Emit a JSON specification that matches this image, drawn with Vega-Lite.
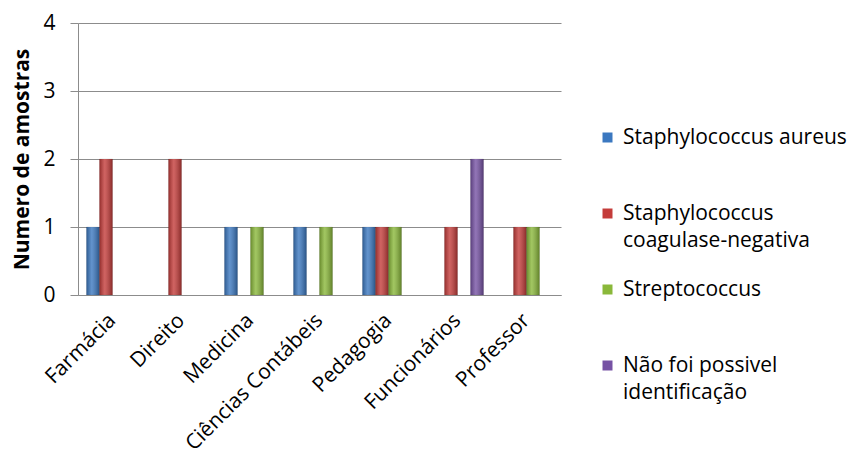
{
  "$schema": "https://vega.github.io/schema/vega-lite/v6.json",
  "width": 483,
  "height": 272,
  "autosize": {"type": "none"},
  "padding": {"left": 78, "top": 23, "right": 292, "bottom": 162},
  "background": "white",
  "config": {"font": "Open Sans", "view": {"stroke": null}},
  "data": {
    "values": [
      {"curso": "Farmácia", "serie": "Staphylococcus aureus", "n": 1},
      {"curso": "Farmácia", "serie": "Staphylococcus coagulase-negativa", "n": 2},
      {"curso": "Direito", "serie": "Staphylococcus coagulase-negativa", "n": 2},
      {"curso": "Medicina", "serie": "Staphylococcus aureus", "n": 1},
      {"curso": "Medicina", "serie": "Streptococcus", "n": 1},
      {"curso": "Ciências Contábeis", "serie": "Staphylococcus aureus", "n": 1},
      {"curso": "Ciências Contábeis", "serie": "Streptococcus", "n": 1},
      {"curso": "Pedagogia", "serie": "Staphylococcus aureus", "n": 1},
      {"curso": "Pedagogia", "serie": "Staphylococcus coagulase-negativa", "n": 1},
      {"curso": "Pedagogia", "serie": "Streptococcus", "n": 1},
      {"curso": "Funcionários", "serie": "Staphylococcus coagulase-negativa", "n": 1},
      {"curso": "Funcionários", "serie": "Não foi possivel identificação", "n": 2},
      {"curso": "Professor", "serie": "Staphylococcus coagulase-negativa", "n": 1},
      {"curso": "Professor", "serie": "Streptococcus", "n": 1}
    ]
  },
  "encoding": {
    "x": {
      "field": "curso",
      "type": "nominal",
      "sort": ["Farmácia", "Direito", "Medicina", "Ciências Contábeis", "Pedagogia", "Funcionários", "Professor"],
      "scale": {"paddingInner": 0.246, "paddingOuter": 0.123},
      "axis": {
        "title": null,
        "labelAngle": -45,
        "labelAlign": "right",
        "labelBaseline": "middle",
        "labelFontSize": 21,
        "labelColor": "#000000",
        "labelPadding": 22,
        "labelLimit": 300,
        "ticks": false,
        "domainColor": "#8c8c8c",
        "grid": false
      }
    },
    "xOffset": {
      "field": "serie",
      "type": "nominal",
      "scale": {
        "domain": ["Staphylococcus aureus", "Staphylococcus coagulase-negativa", "Streptococcus", "Não foi possivel identificação"],
        "paddingInner": 0,
        "paddingOuter": 0
      }
    },
    "y": {
      "field": "n",
      "type": "quantitative",
      "scale": {"domain": [0, 4]},
      "axis": {
        "values": [0, 1, 2, 3, 4],
        "grid": true,
        "gridColor": "#8c8c8c",
        "domainColor": "#8c8c8c",
        "tickColor": "#8c8c8c",
        "tickSize": 8,
        "labelPadding": 15,
        "labelFontSize": 21,
        "labelColor": "#000000",
        "title": "Numero de amostras",
        "titleFontSize": 21,
        "titleFontWeight": "bold",
        "titleColor": "#000000",
        "titlePadding": 10
      }
    }
  },
  "layer": [
    {
      "mark": {"type": "bar", "stroke": "#00000030", "strokeWidth": 0.5},
      "encoding": {
        "color": {
          "field": "serie",
          "type": "nominal",
          "scale": {
            "domain": ["Staphylococcus aureus", "Staphylococcus coagulase-negativa", "Streptococcus", "Não foi possivel identificação"],
            "range": ["#3b78c0", "#c43c3a", "#8ab83a", "#7652a4"]
          },
          "legend": {
            "title": null,
            "orient": "none",
            "legendX": 519,
            "legendY": 104,
            "symbolType": "square",
            "symbolSize": 100,
            "symbolStrokeWidth": 0,
            "labelFontSize": 21,
            "labelColor": "#000000",
            "labelLimit": 400,
            "rowPadding": 27,
            "labelOffset": 5,
            "labelExpr": "datum.label == 'Staphylococcus coagulase-negativa' ? ['Staphylococcus', 'coagulase-negativa'] : datum.label == 'Não foi possivel identificação' ? ['Não foi possivel', 'identificação'] : [datum.label, ' ']",
            "encoding": {"labels": {"lineHeight": {"value": 27}}}
          }
        }
      }
    },
    {
      "mark": {
        "type": "bar",
        "fill": {
          "gradient": "linear",
          "x1": 0, "x2": 1, "y1": 0, "y2": 0,
          "stops": [
            {"offset": 0, "color": "rgba(0,0,0,0.25)"},
            {"offset": 0.4, "color": "rgba(255,255,255,0.2)"},
            {"offset": 1, "color": "rgba(0,0,0,0.3)"}
          ]
        }
      }
    }
  ]
}
